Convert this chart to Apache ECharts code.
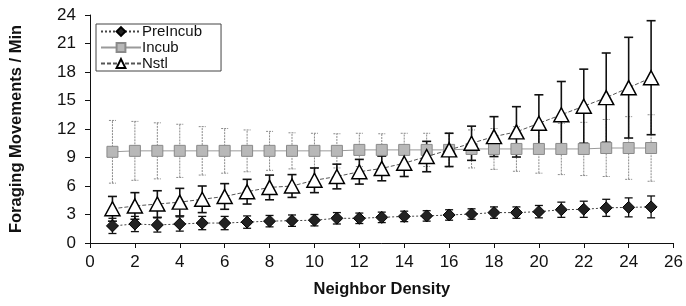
<!DOCTYPE html>
<html>
<head>
<meta charset="utf-8">
<script src="https://cdn.jsdelivr.net/npm/echarts@6/dist/echarts.min.js"></script>
<style>
  body { margin: 0; background: #fff; }
  #chart { width: 686px; height: 306px; }
</style>
</head>
<body>
<div id="chart"></div>
<script>
// neighbor density (x values)
const density = [1, 2, 3, 4, 5, 6, 7, 8, 9, 10, 11, 12, 13, 14, 15, 16, 17, 18, 19, 20, 21, 22, 23, 24, 25];

const preIncub = [1.8, 2.0, 1.9, 2.0, 2.1, 2.1, 2.2, 2.3, 2.35, 2.4, 2.6, 2.6, 2.7, 2.8, 2.85, 2.95, 3.05, 3.2, 3.2, 3.3, 3.5, 3.55, 3.7, 3.75, 3.8];
const preIncubErr = [0.8, 0.8, 0.75, 0.75, 0.7, 0.7, 0.65, 0.6, 0.6, 0.6, 0.6, 0.55, 0.55, 0.55, 0.55, 0.55, 0.55, 0.6, 0.6, 0.65, 0.8, 0.85, 0.9, 1.0, 1.15];

const incub = [9.6, 9.7, 9.7, 9.7, 9.7, 9.7, 9.7, 9.7, 9.7, 9.7, 9.7, 9.8, 9.8, 9.8, 9.8, 9.8, 9.9, 9.9, 9.9, 9.9, 9.9, 9.9, 10.0, 10.0, 10.0];
const incubErr = [3.3, 3.1, 2.95, 2.8, 2.55, 2.35, 2.2, 2.05, 1.9, 1.85, 1.8, 1.75, 1.7, 1.75, 1.75, 1.8, 2.0, 2.15, 2.35, 2.55, 2.7, 2.8, 3.0, 3.3, 3.5];

const nstl = [3.6, 3.9, 4.1, 4.3, 4.6, 4.9, 5.4, 5.85, 6.0, 6.6, 7.0, 7.5, 7.85, 8.4, 9.1, 9.8, 10.5, 11.2, 11.7, 12.6, 13.5, 14.4, 15.3, 16.35, 17.4];
const nstlErr = [1.3, 1.4, 1.4, 1.45, 1.4, 1.35, 1.3, 1.3, 1.2, 1.3, 1.3, 1.3, 1.3, 1.4, 1.6, 1.75, 1.8, 2.1, 2.65, 3.0, 3.5, 3.9, 4.7, 5.3, 6.0];

const yTicks = [0, 3, 6, 9, 12, 15, 18, 21, 24];
const xTicks = [0, 2, 4, 6, 8, 10, 12, 14, 16, 18, 20, 22, 24, 26];

function pairs(ys) {
  return density.map((x, i) => [x, ys[i]]);
}
function errRows(ys, errs) {
  return density.map((x, i) => [x, ys[i] - errs[i], ys[i] + errs[i]]);
}

function errBars(rows, color, width, dash, cap) {
  return {
    type: 'custom',
    silent: true,
    data: rows,
    encode: { x: 0, y: [1, 2] },
    renderItem(params, api) {
      const lo = api.coord([api.value(0), api.value(1)]);
      const hi = api.coord([api.value(0), api.value(2)]);
      const style = { stroke: color, lineWidth: width, lineDash: dash };
      return {
        type: 'group',
        children: [
          { type: 'line', shape: { x1: lo[0], y1: lo[1], x2: hi[0], y2: hi[1] }, style },
          { type: 'line', shape: { x1: hi[0] - cap, y1: hi[1], x2: hi[0] + cap, y2: hi[1] }, style },
          { type: 'line', shape: { x1: lo[0] - cap, y1: lo[1], x2: lo[0] + cap, y2: lo[1] }, style }
        ]
      };
    }
  };
}

const chart = echarts.init(document.getElementById('chart'));
chart.setOption({
  animation: false,
  textStyle: { fontFamily: 'Liberation Sans, Arial, sans-serif' },
  grid: { left: 85, right: 8, top: 15, bottom: 63 },
  legend: {
    left: 96, top: 24,
    orient: 'vertical',
    itemWidth: 40, itemHeight: 11, itemGap: 1,
    padding: [0, 19, 0, 4],
    borderColor: '#444', borderWidth: 1,
    textStyle: { fontSize: 15, color: '#111', padding: [0, 0, 0, -4] },
    data: ['PreIncub', 'Incub', 'Nstl']
  },
  xAxis: {
    type: 'value', min: 0, max: 26, interval: 2,
    name: 'Neighbor Density', nameLocation: 'middle', nameGap: 38,
    nameTextStyle: { fontSize: 16.5, fontWeight: 'bold', color: '#111' },
    axisLine: { lineStyle: { color: '#111' } },
    axisTick: { lineStyle: { color: '#111' }, length: 5 },
    axisLabel: { fontSize: 17, color: '#111', margin: 11,
      customValues: xTicks },
    splitLine: { show: false }
  },
  yAxis: {
    type: 'value', min: 0, max: 24, interval: 3,
    name: 'Foraging Movements / Min', nameLocation: 'middle', nameGap: 65,
    nameTextStyle: { fontSize: 16.5, fontWeight: 'bold', color: '#111' },
    axisLine: { show: true, lineStyle: { color: '#111' } },
    axisTick: { show: true, lineStyle: { color: '#111' }, length: 5 },
    axisLabel: { fontSize: 17, color: '#111', margin: 14,
      customValues: yTicks },
    splitLine: { show: false }
  },
  series: [
    errBars(errRows(incub, incubErr), '#8a8a8a', 1, [2, 1], 3.5),
    errBars(errRows(preIncub, preIncubErr), '#111', 1.3, null, 4),
    errBars(errRows(nstl, nstlErr), '#111', 1.6, null, 4.5),
    {
      name: 'Incub', type: 'line', data: pairs(incub), z: 3,
      symbol: 'rect', symbolSize: 11,
      lineStyle: { color: '#9a9a9a', width: 1 },
      itemStyle: { color: '#b8b8b8', borderColor: '#8a8a8a', borderWidth: 1 }
    },
    {
      name: 'PreIncub', type: 'line', data: pairs(preIncub), z: 3,
      symbol: 'diamond', symbolSize: 12,
      lineStyle: { color: '#444', width: 1, type: [2, 2] },
      itemStyle: { color: '#222', borderColor: '#000', borderWidth: 1 }
    },
    {
      name: 'Nstl', type: 'line', data: pairs(nstl), z: 4,
      symbol: 'triangle', symbolSize: [15, 14],
      lineStyle: { color: '#555', width: 1, type: [4, 2] },
      itemStyle: { color: '#fff', borderColor: '#000', borderWidth: 1.5 }
    }
  ]
});
</script>
</body>
</html>
